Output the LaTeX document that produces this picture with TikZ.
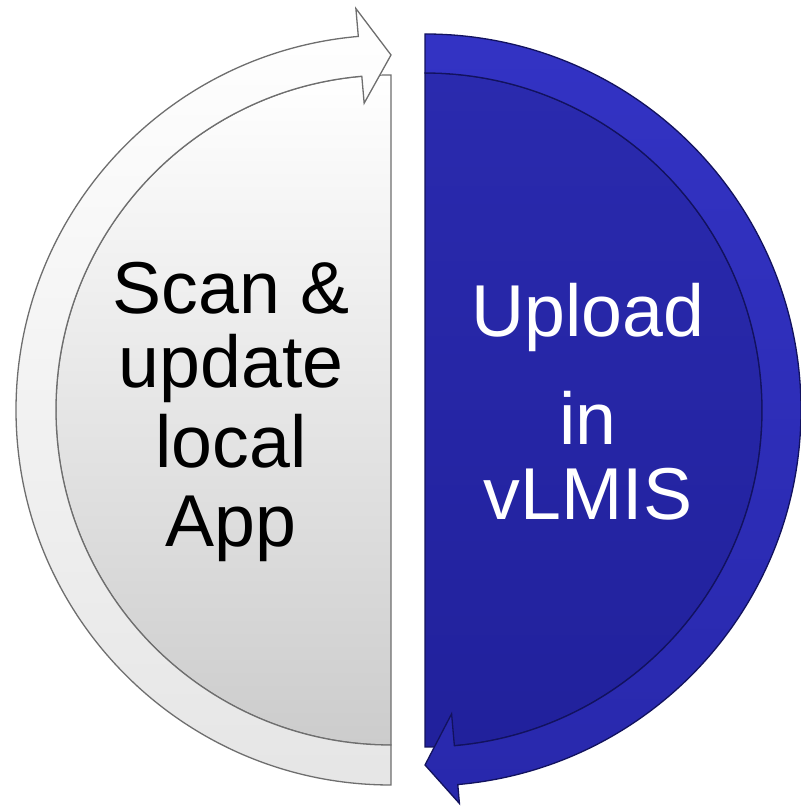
\documentclass[tikz,border=0pt]{standalone}
\usepackage{fontspec}
\setmainfont{Liberation Sans}
\usetikzlibrary{calc}
\definecolor{ringgray}{HTML}{6E6E6E}
\definecolor{bluetop}{HTML}{2A2AAE}
\definecolor{bluebot}{HTML}{21219C}
\definecolor{bluering}{HTML}{3333C4}
\definecolor{blueringb}{HTML}{2828AC}
\definecolor{blueedge}{HTML}{12125E}
\tikzset{
  graydisc/.style={top color=white, bottom color=black!20, draw=ringgray, line width=1.2pt},
  grayring/.style={top color=white, bottom color=black!10, draw=ringgray, line width=1.3pt, line join=miter},
  bluedisc/.style={top color=bluetop, bottom color=bluebot, draw=blueedge, line width=1.2pt},
  bluering/.style={top color=bluering, bottom color=blueringb, draw=blueedge, line width=1.3pt, line join=miter},
  bigtext/.style={font=\fontsize{73.5}{78}\selectfont, inner sep=0pt, anchor=base}
}
\begin{document}
\begin{tikzpicture}[x=1pt,y=1pt]
\useasboundingbox (0,0) rectangle (800,810);
\coordinate (C1) at (391,400);
\coordinate (C2) at (425,400);
% left half disc
\shade[graydisc] ($(C1)+(270:335)$) arc[start angle=270,end angle=90,radius=335] -- cycle;
% left ring arrow
\shade[grayring] ($(C1)+(270:375)$) arc[start angle=270,end angle=95,radius=375]
  -- ($(C1)+(95:403)$) -- ($(C1)+(90:355)$) -- ($(C1)+(95:308)$) -- ($(C1)+(95:335)$)
  arc[start angle=95,end angle=270,radius=335] -- cycle;
% right half disc
\shade[bluedisc] ($(C2)+(90:337)$) arc[start angle=90,end angle=-90,radius=337] -- cycle;
% right ring arrow
\shade[bluering] ($(C2)+(90:376)$) arc[start angle=90,end angle=-85,radius=376]
  -- ($(C2)+(-85:395)$) -- ($(C2)+(-90:355)$) -- ($(C2)+(-85:305)$) -- ($(C2)+(-85:337)$)
  arc[start angle=-85,end angle=90,radius=337] -- cycle;
% texts
\node[bigtext, text=black] (l1) at (231,496) {Scan \&};
\node[bigtext, text=black] (l2) at (231,422) {update};
\node[bigtext, text=black] (l3) at (231,342) {local};
\node[bigtext, text=black] (l4) at (231,263) {App};
\node[bigtext, text=white] (r1) at (588,473) {Upload};
\node[bigtext, text=white] (r2) at (588,365) {in};
\node[bigtext, text=white] (r3) at (588,290) {vLMIS};
\end{tikzpicture}
\end{document}
